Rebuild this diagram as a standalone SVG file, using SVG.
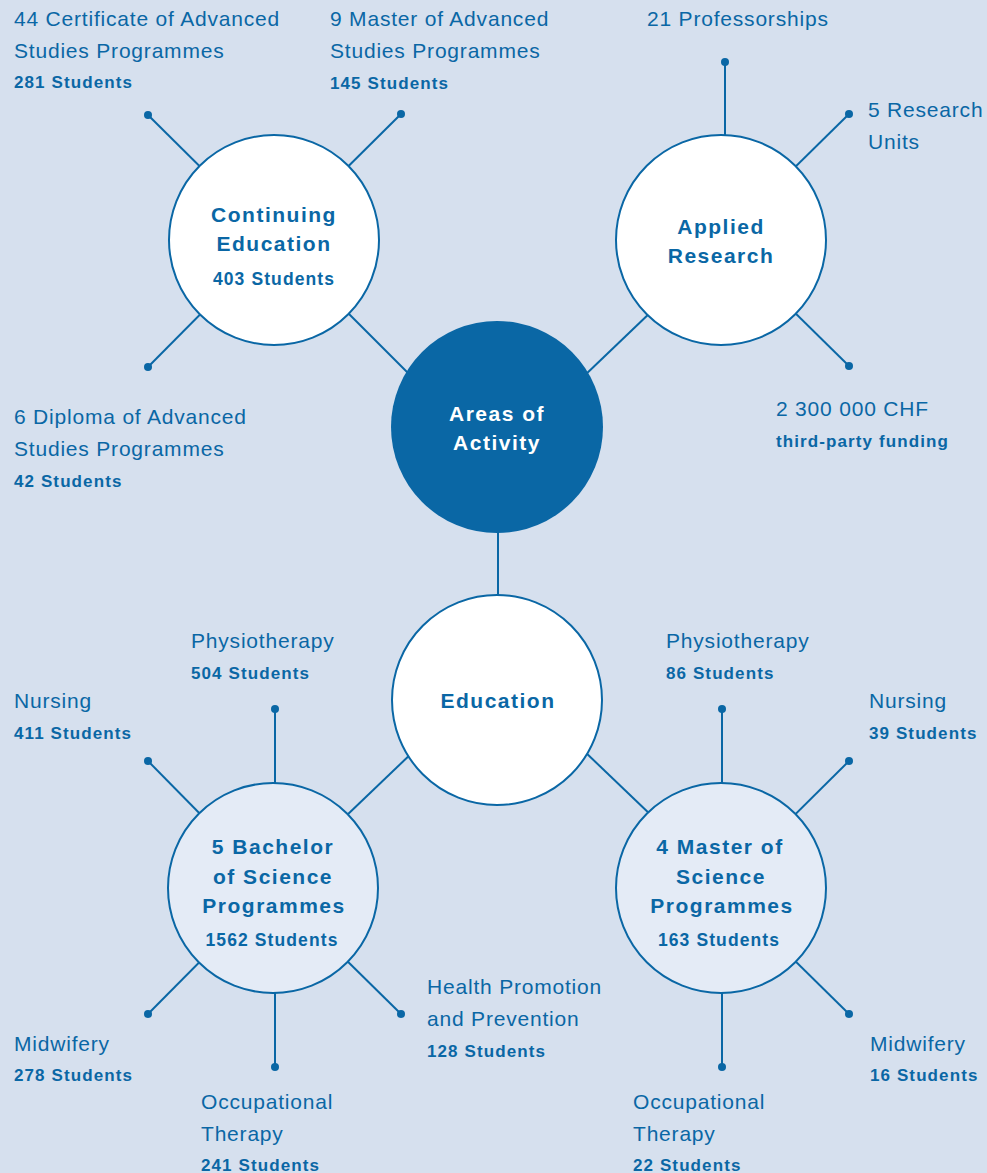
<svg xmlns="http://www.w3.org/2000/svg" width="987" height="1173" viewBox="0 0 987 1173">
<style>
.bg{fill:#d6e0ee}
.ln{stroke:#0a67a5;stroke-width:2;fill:none}
.dot{fill:#0a67a5}
.cw{fill:#ffffff;stroke:#0a67a5;stroke-width:2}
.cl{fill:#e4ebf6;stroke:#0a67a5;stroke-width:2}
.cd{fill:#0a67a5}
.t{font-family:"Liberation Sans",Arial,sans-serif;font-size:21px;fill:#0a67a5;letter-spacing:0.8px}
.b{font-family:"Liberation Sans",Arial,sans-serif;font-size:17px;font-weight:bold;fill:#0a67a5;letter-spacing:1.1px}
.h{font-family:"Liberation Sans",Arial,sans-serif;font-size:21px;font-weight:bold;fill:#0a67a5;letter-spacing:1.5px;text-anchor:middle}
.hs{font-family:"Liberation Sans",Arial,sans-serif;font-size:17.5px;font-weight:bold;fill:#0a67a5;letter-spacing:1.1px;text-anchor:middle}
.hw{fill:#ffffff}
</style>
<rect class="bg" x="0" y="0" width="987" height="1173"/>
<g id="connectors">
<line class="ln" x1="345" y1="310" x2="412" y2="377"/>
<line class="ln" x1="653" y1="310" x2="583" y2="377"/>
<line class="ln" x1="498" y1="520" x2="498" y2="610"/>
<line class="ln" x1="415" y1="750" x2="345" y2="817"/>
<line class="ln" x1="583" y1="750" x2="653" y2="817"/>
<line class="ln" x1="274" y1="240" x2="148" y2="115"/>
<line class="ln" x1="274" y1="240" x2="401" y2="114"/>
<line class="ln" x1="274" y1="240" x2="148" y2="367"/>
<line class="ln" x1="725" y1="160" x2="725" y2="62"/>
<line class="ln" x1="721" y1="240" x2="849" y2="114"/>
<line class="ln" x1="721" y1="240" x2="849" y2="366"/>
<line class="ln" x1="275" y1="888" x2="275" y2="709"/>
<line class="ln" x1="273" y1="888" x2="148" y2="761"/>
<line class="ln" x1="273" y1="888" x2="148" y2="1014"/>
<line class="ln" x1="275" y1="888" x2="275" y2="1067"/>
<line class="ln" x1="273" y1="888" x2="401" y2="1014"/>
<line class="ln" x1="722" y1="888" x2="722" y2="709"/>
<line class="ln" x1="721" y1="888" x2="849" y2="761"/>
<line class="ln" x1="721" y1="888" x2="849" y2="1014"/>
<line class="ln" x1="722" y1="888" x2="722" y2="1067"/>
<circle class="dot" cx="148" cy="115" r="4"/>
<circle class="dot" cx="401" cy="114" r="4"/>
<circle class="dot" cx="148" cy="367" r="4"/>
<circle class="dot" cx="725" cy="62" r="4"/>
<circle class="dot" cx="849" cy="114" r="4"/>
<circle class="dot" cx="849" cy="366" r="4"/>
<circle class="dot" cx="275" cy="709" r="4"/>
<circle class="dot" cx="148" cy="761" r="4"/>
<circle class="dot" cx="148" cy="1014" r="4"/>
<circle class="dot" cx="275" cy="1067" r="4"/>
<circle class="dot" cx="401" cy="1014" r="4"/>
<circle class="dot" cx="722" cy="709" r="4"/>
<circle class="dot" cx="849" cy="761" r="4"/>
<circle class="dot" cx="849" cy="1014" r="4"/>
<circle class="dot" cx="722" cy="1067" r="4"/>
</g>
<g id="areas">
<circle class="cd" cx="497" cy="427" r="106"/>
<text class="h hw" x="497" y="421">Areas of</text>
<text class="h hw" x="497" y="450">Activity</text>
</g>
<g id="continuing">
<circle class="cw" cx="274" cy="240" r="105"/>
<text class="h" x="274" y="222">Continuing</text>
<text class="h" x="274" y="251">Education</text>
<text class="hs" x="274" y="285">403 Students</text>
</g>
<g id="research">
<circle class="cw" cx="721" cy="240" r="105"/>
<text class="h" x="721" y="234">Applied</text>
<text class="h" x="721" y="263">Research</text>
</g>
<g id="education">
<circle class="cw" cx="497" cy="700" r="105"/>
<text class="h" x="498" y="708">Education</text>
</g>
<g id="bachelor">
<circle class="cl" cx="273" cy="888" r="105"/>
<text class="h" x="273" y="854">5 Bachelor</text>
<text class="h" x="273" y="884">of Science</text>
<text class="h" x="274" y="913">Programmes</text>
<text class="hs" x="272" y="946">1562 Students</text>
</g>
<g id="master">
<circle class="cl" cx="721" cy="888" r="105"/>
<text class="h" x="720" y="854">4 Master of</text>
<text class="h" x="721" y="884">Science</text>
<text class="h" x="722" y="913">Programmes</text>
<text class="hs" x="719" y="946">163 Students</text>
</g>
<g id="cas">
<text class="t" x="14" y="26">44 Certificate of Advanced</text>
<text class="t" x="14" y="58">Studies Programmes</text>
<text class="b" x="14" y="88">281 Students</text>
</g>
<g id="mas">
<text class="t" x="330" y="26">9 Master of Advanced</text>
<text class="t" x="330" y="58">Studies Programmes</text>
<text class="b" x="330" y="89">145 Students</text>
</g>
<g id="das">
<text class="t" x="14" y="424">6 Diploma of Advanced</text>
<text class="t" x="14" y="456">Studies Programmes</text>
<text class="b" x="14" y="487">42 Students</text>
</g>
<g id="professorships">
<text class="t" x="647" y="26">21 Professorships</text>
</g>
<g id="units">
<text class="t" x="868" y="117">5 Research</text>
<text class="t" x="868" y="149">Units</text>
</g>
<g id="funding">
<text class="t" x="776" y="416">2 300 000 CHF</text>
<text class="b" x="776" y="447">third-party funding</text>
</g>
<g id="b-physio">
<text class="t" x="191" y="648">Physiotherapy</text>
<text class="b" x="191" y="679">504 Students</text>
</g>
<g id="b-nursing">
<text class="t" x="14" y="708">Nursing</text>
<text class="b" x="14" y="739">411 Students</text>
</g>
<g id="b-midwifery">
<text class="t" x="14" y="1051">Midwifery</text>
<text class="b" x="14" y="1081">278 Students</text>
</g>
<g id="b-ot">
<text class="t" x="201" y="1109">Occupational</text>
<text class="t" x="201" y="1141">Therapy</text>
<text class="b" x="201" y="1171">241 Students</text>
</g>
<g id="b-health">
<text class="t" x="427" y="994">Health Promotion</text>
<text class="t" x="427" y="1026">and Prevention</text>
<text class="b" x="427" y="1057">128 Students</text>
</g>
<g id="m-physio">
<text class="t" x="666" y="648">Physiotherapy</text>
<text class="b" x="666" y="679">86 Students</text>
</g>
<g id="m-nursing">
<text class="t" x="869" y="708">Nursing</text>
<text class="b" x="869" y="739">39 Students</text>
</g>
<g id="m-midwifery">
<text class="t" x="870" y="1051">Midwifery</text>
<text class="b" x="870" y="1081">16 Students</text>
</g>
<g id="m-ot">
<text class="t" x="633" y="1109">Occupational</text>
<text class="t" x="633" y="1141">Therapy</text>
<text class="b" x="633" y="1171">22 Students</text>
</g>
</svg>
